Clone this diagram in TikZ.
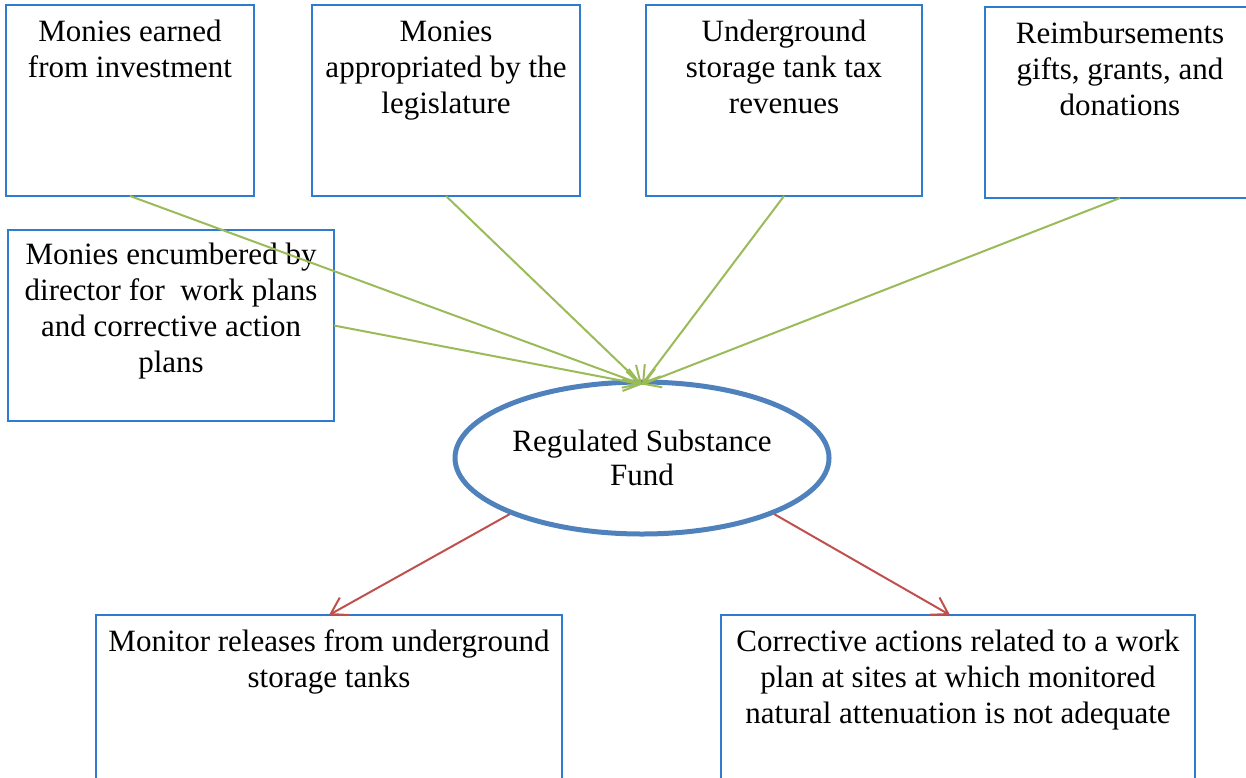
\documentclass[tikz,border=0pt]{standalone}
\usepackage{fontspec}
\setmainfont{Liberation Serif}
\usetikzlibrary{arrows.meta,shapes.geometric}
\definecolor{boxblue}{HTML}{2E7BCF}
\definecolor{fundblue}{HTML}{4F81BD}
\definecolor{feedgreen}{HTML}{9BBB59}
\definecolor{outred}{HTML}{C0504D}
\newcommand\boxtxt[4][36]{\parbox[c][#3pt][t]{#2pt}{\centering\rule{0pt}{#1pt}#4}}
\begin{document}
\begin{tikzpicture}[x=1pt,y=-1pt,line width=2pt,font=\fontsize{31}{36}\selectfont,
  box/.style={draw=boxblue,inner sep=0pt,outer sep=0pt,anchor=north west},
  feed/.style={draw=feedgreen,-{Straight Barb[length=16pt,width=20pt]}},
  payout/.style={draw=outred,-{Straight Barb[length=16pt,width=20pt]}}]
\useasboundingbox (0,0) rectangle (1246,777);
\node[box] (b1) at (6,5) {\boxtxt{248}{191}{Monies earned\\from investment}};
\node[box] (b2) at (312,5) {\boxtxt{268}{191}{Monies\\appropriated by the\\legislature}};
\node[box] (b3) at (646,5) {\boxtxt{276}{191}{Underground\\storage tank tax\\revenues}};
\node[box] (b4) at (985,7) {\boxtxt{270}{191}{Reimbursements\\gifts, grants, and\\donations}};
\node[box] (b5) at (8,230) {\boxtxt[34]{326}{191}{Monies encumbered by\\director for\ \ work plans\\and corrective action\\plans}};
\node[ellipse,draw=fundblue,line width=5pt,minimum width=374pt,minimum height=152pt,inner sep=0pt,align=center] (fund) at (642,458) {Regulated Substance\\[-2pt]Fund};
\node[box] (b6) at (96,615) {\boxtxt{466}{200}{Monitor releases from underground\\storage tanks}};
\node[box] (b7) at (721,615) {\boxtxt{474}{200}{Corrective actions related to a work\\plan at sites at which monitored\\natural attenuation is not adequate}};
\coordinate (top) at ([yshift=-5pt]fund.north);
\foreach \s/\a in {b1/south,b2/south,b3/south,b4/south,b5/east}{\draw[feed] (\s.\a)--(top);}
\draw[payout] (fund.203)--(b6.north); \draw[payout] (fund.-23)--([xshift=-8pt]b7.north);
\end{tikzpicture}
\end{document}
